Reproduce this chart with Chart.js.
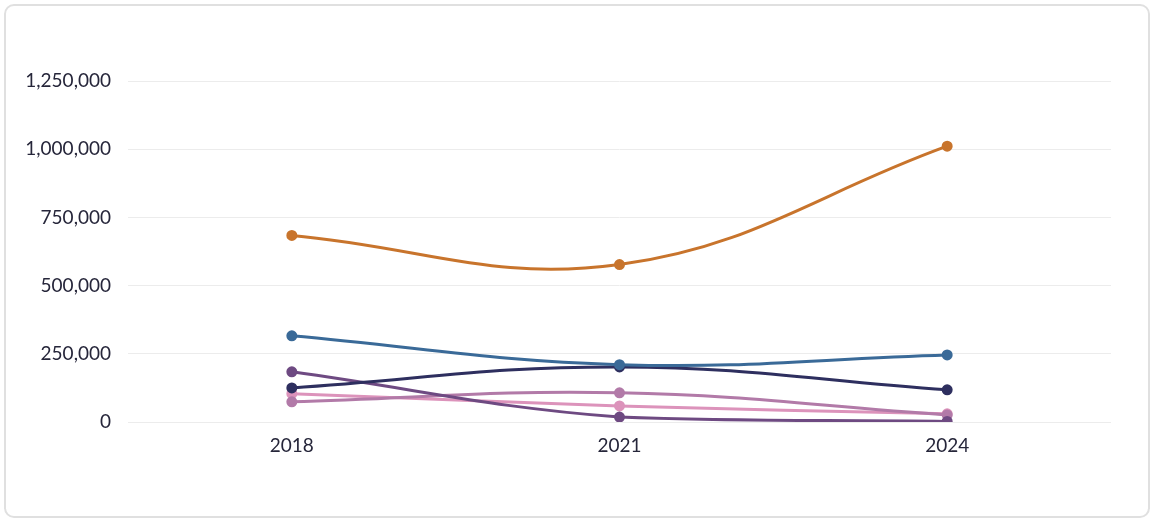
<!DOCTYPE html>
<html>
<head>
<meta charset="utf-8">
<script src="https://cdn.jsdelivr.net/npm/chart.js@4/dist/chart.umd.min.js"></script>
<style>
  html, body { margin: 0; padding: 0; background: #fff; }
  body { width: 1156px; height: 522px; position: relative; overflow: hidden; }
  #card { position: absolute; left: 4px; top: 4px; width: 1146px; height: 514px; border: 2px solid #e0e0e0; border-radius: 10px; box-sizing: border-box; }
  #wrap { position: absolute; left: 0; top: 0; width: 1156px; height: 522px; }
</style>
</head>
<body>
<div id="card"></div>
<div id="wrap"><canvas id="c" width="1156" height="522"></canvas></div>
<script>
const years = ['2018', '2021', '2024'];
const seriesOrange = [684000, 577000, 1011000];
const seriesBlue = [316000, 210000, 246000];
const seriesNavy = [125000, 202000, 118000];
const seriesPurple = [184000, 18000, 2000];
const seriesMauve = [74000, 107000, 26000];
const seriesPink = [104000, 59000, 30000];
const yTicks = [0, 250000, 500000, 750000, 1000000, 1250000];

function ds(data, color) {
  return {
    data: data,
    borderColor: color,
    backgroundColor: color,
    borderWidth: 3,
    pointRadius: 4,
    pointHoverRadius: 4,
    tension: 0.4,
    fill: false
  };
}

new Chart(document.getElementById('c'), {
  type: 'line',
  data: {
    labels: years,
    datasets: [
      ds(seriesOrange, '#c8742c'),
      ds(seriesBlue, '#3a6a98'),
      ds(seriesNavy, '#2e2f5f'),
      ds(seriesPurple, '#6e4a82'),
      ds(seriesMauve, '#b27aa8'),
      ds(seriesPink, '#dc93bb')
    ]
  },
  options: {
    responsive: false,
    animation: false,
    layout: { padding: { top: 81, right: 45, bottom: 0, left: 0 } },
    plugins: { legend: { display: false }, tooltip: { enabled: false } },
    scales: {
      x: {
        offset: true,
        grid: { display: false, drawTicks: false },
        border: { display: false },
        ticks: { color: '#26263a', font: { family: 'Lato', size: 19 }, padding: 12 },
        afterFit: (s) => { s.height = 100; }
      },
      y: {
        min: 0,
        max: 1250000,
        afterBuildTicks: (s) => { s.ticks = yTicks.map(v => ({ value: v })); },
        grid: { color: '#ececec', drawTicks: false },
        border: { display: false },
        ticks: {
          color: '#26263a',
          font: { family: 'Lato', size: 19 },
          padding: 17,
          callback: (v) => v.toLocaleString('en-US')
        },
        afterFit: (s) => { s.width = 128; }
      }
    }
  }
});
</script>
</body>
</html>
